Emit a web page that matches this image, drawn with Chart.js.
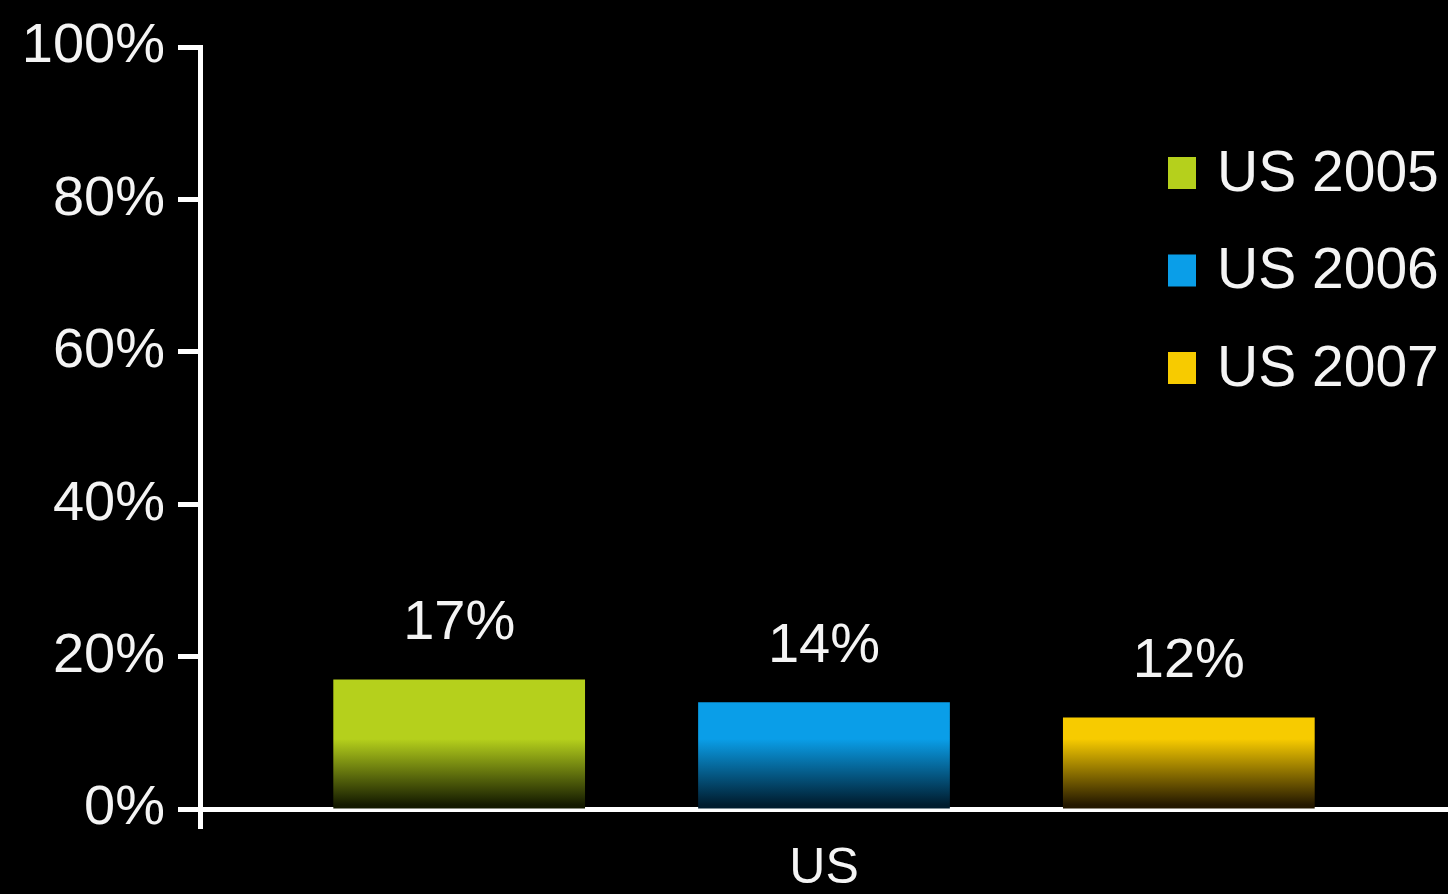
<!DOCTYPE html>
<html>
<head>
<meta charset="utf-8">
<title>US share by year</title>
<script src="https://cdn.jsdelivr.net/npm/chart.js@4/dist/chart.umd.min.js"></script>
<style>
    html, body { margin: 0; padding: 0; background: #000; }
    #wrap { width: 1448px; height: 894px; position: relative; }
</style>
</head>
<body>
<div id="wrap"><canvas id="usChart"></canvas></div>
<script>
// Chart data
const categories = ['US'];
const seriesLabels = ['US 2005', 'US 2006', 'US 2007'];
const seriesValues = [[17], [14], [12]];
const seriesColors = ['#b5d01c', '#0a9ee8', '#f7cb00'];
const seriesDark = ['#141a00', '#001c2e', '#241800'];
const yTicks = [0, 20, 40, 60, 80, 100];

const FONT = "'Liberation Sans', Arial, Helvetica, sans-serif";
const TEXT = '#f4f4f4';

// Bars keep their colour and fade to dark over the last stretch above the axis
function barFill(ctx) {
    const chart = ctx.chart;
    const i = ctx.datasetIndex;
    if (!chart.chartArea) return seriesColors[i];
    const bottom = chart.chartArea.bottom;
    const g = chart.ctx.createLinearGradient(0, bottom - 70, 0, bottom - 4);
    g.addColorStop(0, seriesColors[i]);
    g.addColorStop(1, seriesDark[i]);
    return g;
}

// Value labels above bars
const valueLabels = {
    id: 'valueLabels',
    afterDatasetsDraw(chart) {
        const ctx = chart.ctx;
        ctx.save();
        ctx.fillStyle = TEXT;
        ctx.font = '56px ' + FONT;
        ctx.textAlign = 'center';
        ctx.textBaseline = 'middle';
        chart.data.datasets.forEach((ds, i) => {
            chart.getDatasetMeta(i).data.forEach((bar, j) => {
                ctx.fillText(ds.data[j] + '%', bar.x, bar.y - 56);
            });
        });
        ctx.restore();
    }
};

// Legend in the upper right corner
const cornerLegend = {
    id: 'cornerLegend',
    afterDraw(chart) {
        const ctx = chart.ctx;
        const x = 1168, rowTop = 173, rowGap = 97.5, box = 28;
        ctx.save();
        ctx.font = '57px ' + FONT;
        ctx.textBaseline = 'middle';
        ctx.textAlign = 'left';
        chart.data.datasets.forEach((ds, i) => {
            const y = rowTop + i * rowGap;
            ctx.fillStyle = seriesColors[i];
            ctx.fillRect(x, y - box / 2 - 2, box, box + 4);
            ctx.fillStyle = TEXT;
            ctx.fillText(ds.label, x + 49, y + 2);
        });
        ctx.restore();
    }
};

const datasets = seriesLabels.map((label, i) => ({
    label: label,
    data: seriesValues[i],
    backgroundColor: barFill,
    borderWidth: 0,
    categoryPercentage: 0.877,
    barPercentage: 0.69
}));

new Chart(document.getElementById('usChart').getContext('2d'), {
    type: 'bar',
    data: { labels: categories, datasets: datasets },
    plugins: [valueLabels, cornerLegend],
    options: {
        responsive: true,
        maintainAspectRatio: false,
        animation: false,
        layout: { padding: { top: 47, right: 0, bottom: 0, left: 0 } },
        plugins: {
            legend: { display: false },
            tooltip: { enabled: false }
        },
        scales: {
            x: {
                afterFit(scale) { scale.height = 85; },
                grid: {
                    display: true,
                    drawOnChartArea: false,
                    drawTicks: true,
                    tickLength: 20,
                    tickWidth: 5,
                    tickColor: ctx => ctx.index === 0 ? '#ffffff' : 'rgba(0,0,0,0)'
                },
                border: { display: true, color: '#ffffff', width: 5 },
                ticks: {
                    color: TEXT,
                    padding: 10,
                    font: { family: FONT, size: 50 }
                }
            },
            y: {
                min: 0,
                max: 100,
                afterFit(scale) { scale.width = 200; },
                afterBuildTicks(scale) {
                    scale.ticks = yTicks.map(v => ({ value: v }));
                },
                grid: {
                    display: true,
                    drawOnChartArea: false,
                    drawTicks: true,
                    tickLength: 22,
                    tickWidth: 5,
                    tickColor: '#ffffff'
                },
                border: { display: true, color: '#ffffff', width: 5 },
                ticks: {
                    color: TEXT,
                    padding: 13,
                    font: { family: FONT, size: 56 },
                    callback: v => v + '%'
                }
            }
        }
    }
});
</script>
</body>
</html>
